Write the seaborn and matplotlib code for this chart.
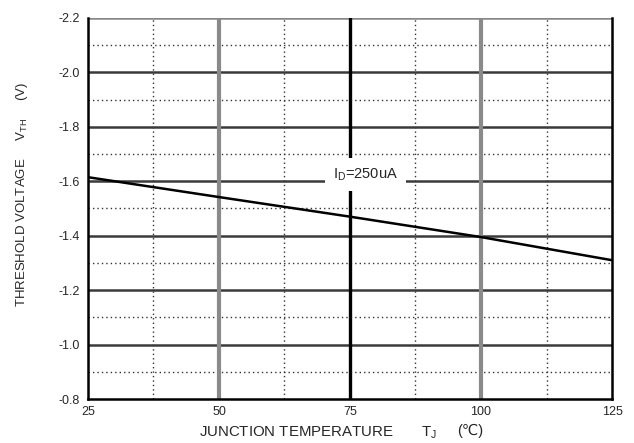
import numpy as np
import pandas as pd
import matplotlib
matplotlib.use("Agg")
import matplotlib.pyplot as plt
import seaborn as sns

# data
temp_c = [25, 50, 75, 100, 125]
vth = [-1.615, -1.542, -1.470, -1.395, -1.310]

major_y = [-2.2, -2.0, -1.8, -1.6, -1.4, -1.2, -1.0, -0.8]
minor_y = [-2.1, -1.9, -1.7, -1.5, -1.3, -1.1, -0.9]
major_x = [25, 50, 75, 100, 125]
minor_x = [37.5, 62.5, 87.5, 112.5]

sns.set_style("white")
plt.rcParams['font.family'] = ['Liberation Sans', 'DejaVu Sans']
plt.rcParams['mathtext.fontset'] = 'custom'
plt.rcParams['mathtext.rm'] = 'Liberation Sans'

df = pd.DataFrame({'T': temp_c, 'V': vth})

fig = plt.figure(figsize=(6.34, 4.43), dpi=100)
ax = fig.add_axes([0.1388, 0.0993, 0.8265, 0.8601])

# grid
for y in minor_y:
    ax.axhline(y, color='#333333', lw=1.0, ls=(0, (1, 2.2)), zorder=1)
for x in minor_x:
    ax.axvline(x, color='#333333', lw=1.0, ls=(0, (1, 2.2)), zorder=1)
for y in major_y[1:-1]:
    ax.axhline(y, color='#3a3a3a', lw=1.8, zorder=2)
ax.axhline(-2.2, color='#888888', lw=1.8, zorder=2)
ax.axvline(50, color='#8a8a8a', lw=3.0, zorder=2)
ax.axvline(100, color='#8a8a8a', lw=3.0, zorder=2)
ax.axvline(75, color='black', lw=2.4, zorder=2)

sns.lineplot(data=df, x='T', y='V', ax=ax, color='black', lw=1.8, zorder=4)

ax.text(78, -1.626, r'I$_{\rm D}$=250uA', fontsize=10.5, ha='center', va='center',
        bbox=dict(facecolor='white', edgecolor='none', pad=6), zorder=3)

ax.set_xlim(25, 125)
ax.set_ylim(-0.8, -2.2)
ax.set_xticks(major_x)
ax.set_yticks(major_y)
ax.set_xticklabels([str(v) for v in major_x])
ax.set_yticklabels(['%.1f' % v for v in major_y])
ax.tick_params(axis='both', length=0, labelsize=9)
ax.tick_params(axis='x', pad=5)
ax.tick_params(axis='y', pad=6)

for side in ['left', 'right', 'bottom']:
    ax.spines[side].set_color('black')
    ax.spines[side].set_linewidth(1.8)
    ax.spines[side].set_visible(True)
ax.spines['top'].set_visible(False)

ax.set_xlabel(r'JUNCTION TEMPERATURE       T$_{\rm J}$', fontsize=10.8)
ax.xaxis.set_label_coords(0.440, -0.066)
ax.annotate('(℃)', xy=(1, 0.6), xycoords=ax.xaxis.label, xytext=(14, 0),
            textcoords='offset points', fontsize=10.5, ha='left', va='center')

ax.set_ylabel(r'THRESHOLD VOLTAGE     V$_{\rm TH}$     (V)', fontsize=9.5)
ax.yaxis.set_label_coords(-0.111, 0.538)

fig.savefig('out.png', dpi=100, facecolor='white')
